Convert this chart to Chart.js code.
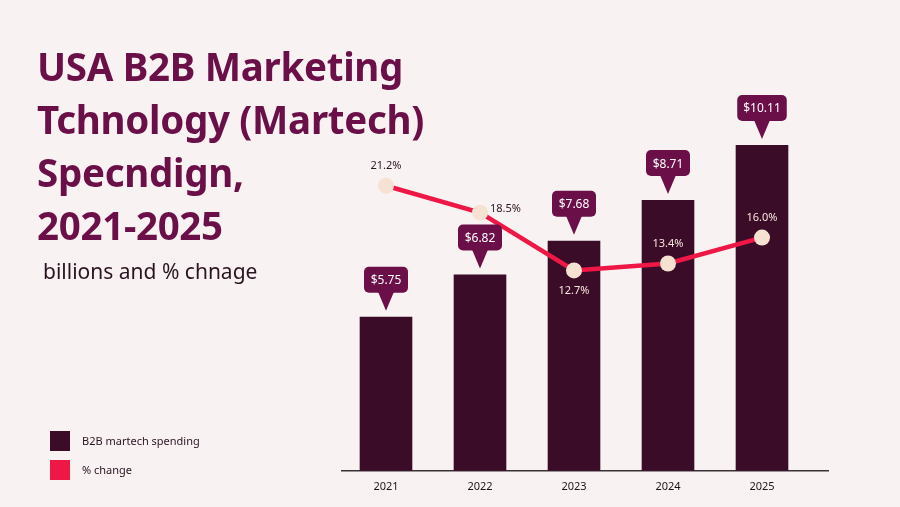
<!DOCTYPE html>
<html>
<head>
<meta charset="utf-8">
<script src="https://cdn.jsdelivr.net/npm/chart.js@4.4.1/dist/chart.umd.min.js"></script>
<style>
  html, body { margin: 0; padding: 0; background: #f8f2f2; }
  body { width: 900px; height: 507px; position: relative; overflow: hidden; font-family: "Noto Sans", sans-serif; }
  #chart { position: absolute; left: 0; top: 0; }
  .title { position: absolute; left: 37px; top: 40px; margin: 0; color: #6a0f48; font-weight: 700; font-size: 38.5px; line-height: 53px; letter-spacing: -0.3px; }
  .sub { position: absolute; left: 43px; top: 257px; color: #2b1422; font-size: 21px; }
  .legend { position: absolute; left: 50px; top: 431px; font-size: 11px; color: #2b1422; }
  .legend div { height: 20px; line-height: 20px; margin-bottom: 9px; }
  .legend span { display: inline-block; width: 20px; height: 20px; vertical-align: top; margin-right: 12px; }
</style>
</head>
<body>
<canvas id="chart" width="900" height="507"></canvas>
<h1 class="title">USA B2B Marketing<br>Tchnology (Martech)<br>Specndign,<br>2021-2025</h1>
<div class="sub">billions and % chnage</div>
<div class="legend">
  <div><span style="background:#3b0c28"></span>B2B martech spending</div>
  <div><span style="background:#ee1746"></span>% change</div>
</div>
<script>
const years = ['2021', '2022', '2023', '2024', '2025'];
const spending = [5.75, 6.82, 7.68, 8.71, 10.11];
const pctChange = [21.2, 18.5, 12.7, 13.4, 16.0];

// where each % label sits relative to its point
const pctPlace = ['top', 'right', 'bottom', 'top', 'top'];

const calloutPlugin = {
  id: 'callouts',
  beforeDatasetsDraw(chart) {
    // baseline runs a bit past the last bar
    const ctx = chart.ctx, a = chart.chartArea;
    ctx.save();
    ctx.strokeStyle = '#3a3035';
    ctx.lineWidth = 1.5;
    ctx.beginPath();
    ctx.moveTo(a.left + 2, a.bottom);
    ctx.lineTo(a.right + 20, a.bottom);
    ctx.stroke();
    ctx.restore();
  },
  afterDatasetsDraw(chart) {
    const ctx = chart.ctx;
    const bars = chart.getDatasetMeta(1).data;
    const pts = chart.getDatasetMeta(0).data;
    ctx.save();
    // $ callouts above bars
    bars.forEach((bar, i) => {
      const txt = '$' + spending[i].toFixed(2);
      ctx.font = '12px "Noto Sans"';
      const w = Math.max(44, ctx.measureText(txt).width + 12);
      const h = 26;
      const tip = bar.y - 6;
      const bottom = bar.y - 24;
      const x = bar.x - w / 2;
      const y = bottom - h;
      ctx.fillStyle = '#6a0f48';
      ctx.beginPath();
      ctx.roundRect(x, y, w, h, 5);
      ctx.fill();
      ctx.beginPath();
      ctx.moveTo(bar.x - 8, bottom - 1);
      ctx.lineTo(bar.x + 8, bottom - 1);
      ctx.lineTo(bar.x, tip);
      ctx.closePath();
      ctx.fill();
      ctx.fillStyle = '#ffffff';
      ctx.textAlign = 'center';
      ctx.textBaseline = 'middle';
      ctx.fillText(txt, bar.x, y + h / 2 + 1);
    });
    // % labels near points
    pts.forEach((pt, i) => {
      const txt = pctChange[i].toFixed(1) + '%';
      ctx.font = '11px "Noto Sans"';
      ctx.textBaseline = 'middle';
      let tx = pt.x, ty = pt.y;
      if (pctPlace[i] === 'top') { ty -= 20; ctx.textAlign = 'center'; }
      if (pctPlace[i] === 'bottom') { ty += 20; ctx.textAlign = 'center'; }
      if (pctPlace[i] === 'right') { tx += 10; ty -= 4; ctx.textAlign = 'left'; }
      const onBar = ty > bars[i].y && Math.abs(tx - bars[i].x) < 26;
      ctx.fillStyle = onBar ? '#f6e6dc' : '#2b1422';
      ctx.fillText(txt, tx, ty);
    });
    ctx.restore();
  }
};

new Chart(document.getElementById('chart'), {
  data: {
    labels: years,
    datasets: [
      {
        type: 'line',
        label: '% change',
        data: pctChange,
        yAxisID: 'y2',
        borderColor: '#ee1746',
        borderWidth: 4.5,
        pointRadius: 8,
        pointBackgroundColor: '#f6e2d2',
        pointBorderWidth: 0,
        tension: 0,
        order: 0
      },
      {
        type: 'bar',
        label: 'B2B martech spending',
        data: spending,
        yAxisID: 'y',
        backgroundColor: '#3b0c28',
        barPercentage: 0.56,
        categoryPercentage: 1,
        order: 1
      }
    ]
  },
  options: {
    responsive: false,
    animation: false,
    layout: { padding: { left: 339, right: 91, top: 100, bottom: 13 } },
    plugins: { legend: { display: false }, tooltip: { enabled: false } },
    scales: {
      x: {
        grid: { display: false },
        border: { display: false },
        ticks: { color: '#1e1418', font: { family: 'Noto Sans', size: 11 }, padding: 1 }
      },
      y: { display: false, min: 1.84, max: 11.25 },
      y2: { display: false, min: -7.4, max: 29.8 }
    }
  },
  plugins: [calloutPlugin]
});
</script>
</body>
</html>
